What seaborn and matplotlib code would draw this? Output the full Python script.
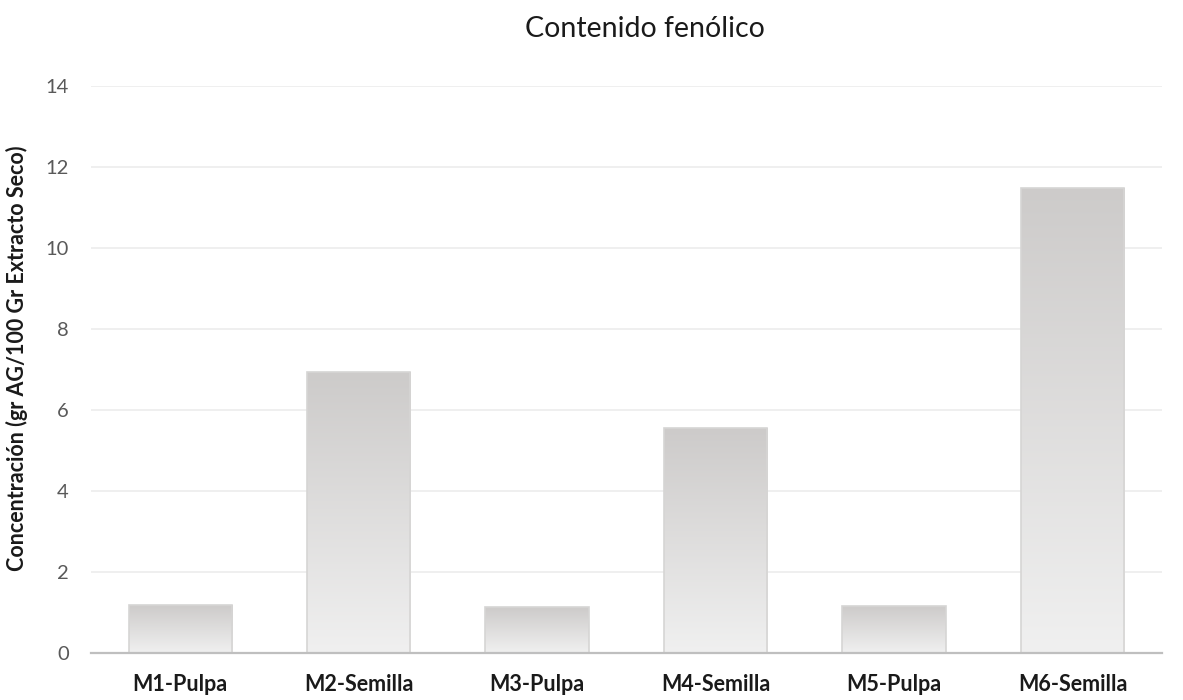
import numpy as np
import pandas as pd
import matplotlib
matplotlib.use("Agg")
import matplotlib.pyplot as plt
import seaborn as sns
from matplotlib.colors import LinearSegmentedColormap

muestras = ["M1-Pulpa", "M2-Semilla", "M3-Pulpa", "M4-Semilla", "M5-Pulpa", "M6-Semilla"]
concentracion = [1.18, 6.93, 1.13, 5.55, 1.16, 11.49]
y_ticks = [0, 2, 4, 6, 8, 10, 12, 14]

df = pd.DataFrame({"Muestra": muestras, "Concentracion": concentracion})

sns.set_theme(style="white")
plt.rcParams["font.family"] = ["Lato", "DejaVu Sans"]

fig = plt.figure(figsize=(11.83, 7.0), dpi=100)
ax = fig.add_axes([0.077, 0.067, 0.905, 0.81])

sns.barplot(data=df, x="Muestra", y="Concentracion", ax=ax, color="#d9d8d7",
            width=0.58, edgecolor="#d6d5d4", linewidth=1.2, zorder=3)

# vertical grey gradient inside each bar: darker top, lighter base
grad = np.linspace(0, 1, 256).reshape(-1, 1)
cmap = LinearSegmentedColormap.from_list("barfill", ["#f0f0f0", "#cdcbca"])
for patch in ax.patches:
    x0, y0 = patch.get_x(), patch.get_y()
    w, h = patch.get_width(), patch.get_height()
    im = ax.imshow(grad, cmap=cmap, aspect="auto", origin="lower",
                   extent=[x0, x0 + w, y0, y0 + h], zorder=3.5, interpolation="bicubic")
    im.set_clip_path(patch)
    patch.set_facecolor("none")
    patch.set_zorder(4)

ax.set_xlim(-0.5, len(muestras) - 0.5)
ax.set_ylim(0, 14)
ax.set_yticks(y_ticks)
ax.yaxis.grid(True, color="#ececec", linewidth=1.2, zorder=0)
ax.set_axisbelow(True)

for side in ["top", "right", "left"]:
    ax.spines[side].set_visible(False)
ax.spines["bottom"].set_color("#bfbfbf")
ax.spines["bottom"].set_linewidth(1.6)
ax.spines["bottom"].set_zorder(5)

ax.tick_params(axis="y", length=0, labelsize=14.5, labelcolor="#595959", pad=16)
ax.tick_params(axis="x", length=0, labelsize=15.5, pad=15)
for lbl in ax.get_xticklabels():
    lbl.set_fontweight("bold")
    lbl.set_color("#1a1a1a")

ax.set_xlabel("")
ax.set_ylabel("Concentración (gr AG/100 Gr Extracto Seco)", fontsize=15.5,
              fontweight="bold", color="#1a1a1a")
ax.yaxis.set_label_coords(-0.059, 0.52)
fig.text(0.545, 0.947, "Contenido fenólico", fontsize=20.5, color="#1a1a1a",
         ha="center", va="baseline")

fig.savefig("out.png", dpi=100, facecolor="white")
